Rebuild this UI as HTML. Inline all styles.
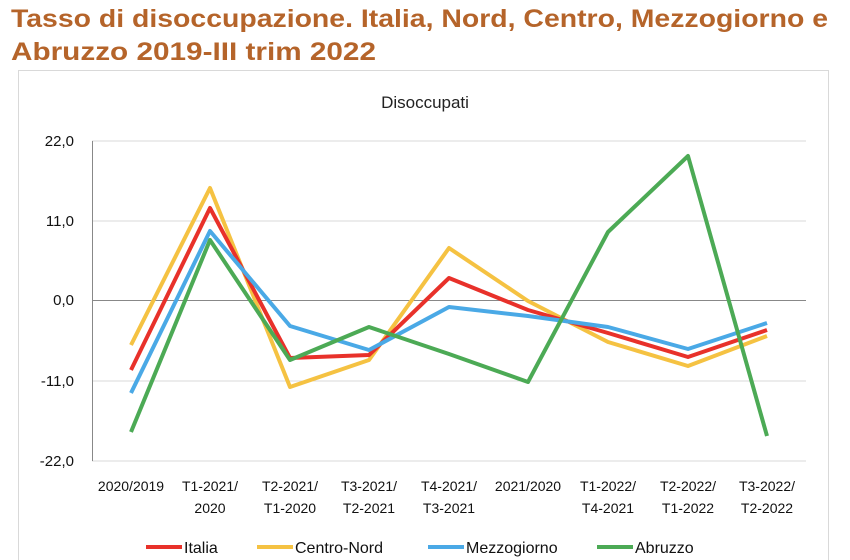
<!DOCTYPE html>
<html><head><meta charset="utf-8"><style>body{margin:0;background:#fff}svg{display:block}</style></head><body>
<svg width="850" height="560" xmlns="http://www.w3.org/2000/svg" font-family="Liberation Sans, sans-serif">
<rect width="850" height="560" fill="#fff"/>
<g fill="#b5642a" font-weight="bold" font-size="25">
<text x="11" y="27" textLength="817" lengthAdjust="spacingAndGlyphs">Tasso di disoccupazione. Italia, Nord, Centro, Mezzogiorno e</text>
<text x="11" y="60" textLength="365" lengthAdjust="spacingAndGlyphs">Abruzzo 2019-III trim 2022</text>
</g>
<rect x="18.5" y="70.5" width="810" height="500" fill="none" stroke="#d9d9d9"/>
<text x="425" y="108" font-size="17" text-anchor="middle" fill="#222">Disoccupati</text>
<g stroke="#d9d9d9" stroke-width="1">
<line x1="92" y1="141" x2="806" y2="141"/><line x1="92" y1="221" x2="806" y2="221"/>
<line x1="92" y1="381" x2="806" y2="381"/><line x1="92" y1="461" x2="806" y2="461"/>
</g>
<line x1="92" y1="300.5" x2="806" y2="300.5" stroke="#888"/>
<line x1="92.5" y1="141" x2="92.5" y2="461" stroke="#888"/>
<g font-size="15" text-anchor="end" fill="#111">
<text x="74" y="146">22,0</text><text x="74" y="226">11,0</text><text x="74" y="305">0,0</text>
<text x="74" y="386">-11,0</text><text x="74" y="466">-22,0</text>
</g>
<g font-size="14" text-anchor="middle" fill="#111">
<text x="131" y="491">2020/2019</text>
<text x="210" y="491">T1-2021/</text><text x="210" y="513">2020</text>
<text x="290" y="491">T2-2021/</text><text x="290" y="513">T1-2020</text>
<text x="369" y="491">T3-2021/</text><text x="369" y="513">T2-2021</text>
<text x="449" y="491">T4-2021/</text><text x="449" y="513">T3-2021</text>
<text x="528" y="491">2021/2020</text>
<text x="608" y="491">T1-2022/</text><text x="608" y="513">T4-2021</text>
<text x="688" y="491">T2-2022/</text><text x="688" y="513">T1-2022</text>
<text x="767" y="491">T3-2022/</text><text x="767" y="513">T2-2022</text>
</g>
<g fill="none" stroke-width="4" stroke-linejoin="round">
<polyline stroke="#f5c242" points="131,345 210,188 290,387 369,360 449,248 528,301 608,342 688,366 767,336"/>
<polyline stroke="#e8312a" points="131,370 210,208 290,358 369,355 449,278 528,310 608,333 688,357 767,330"/>
<polyline stroke="#4aa9e6" points="131,393 210,231 290,326 369,350 449,307 528,316 608,327 688,349 767,323"/>
<polyline stroke="#4caa55" points="131,432 210,240 290,360 369,327 449,354 528,382 608,232 688,156 767,436"/>
</g>
<g stroke-width="4">
<line x1="146" y1="547" x2="182" y2="547" stroke="#e8312a"/>
<line x1="257" y1="547" x2="293" y2="547" stroke="#f5c242"/>
<line x1="428" y1="547" x2="464" y2="547" stroke="#4aa9e6"/>
<line x1="597" y1="547" x2="633" y2="547" stroke="#4caa55"/>
</g>
<g font-size="16" fill="#111">
<text x="184" y="553">Italia</text><text x="295" y="553">Centro-Nord</text>
<text x="466" y="553">Mezzogiorno</text><text x="635" y="553">Abruzzo</text>
</g>
</svg>
</body></html>
